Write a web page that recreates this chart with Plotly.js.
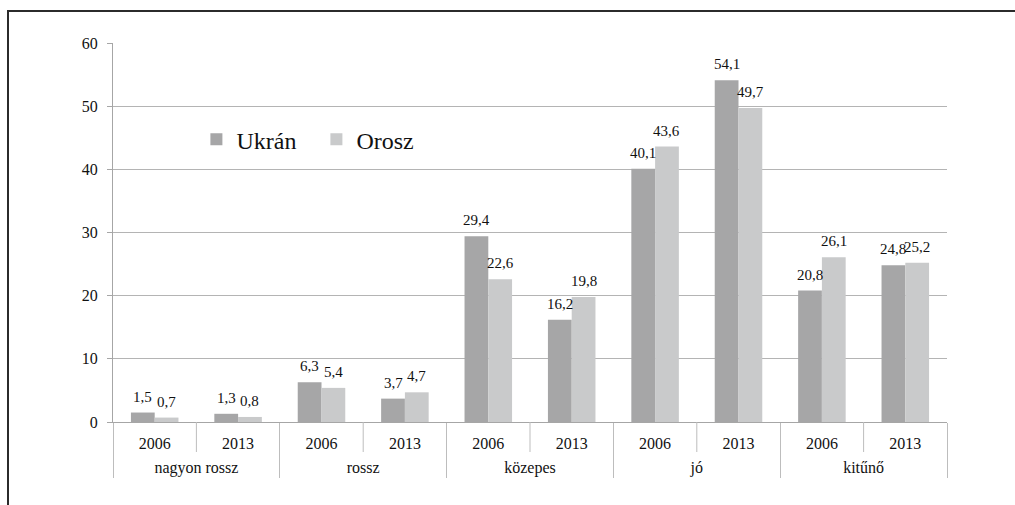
<!DOCTYPE html>
<html>
<head>
<meta charset="utf-8">
<script src="https://cdn.plot.ly/plotly-3.0.1.min.js"></script>
<style>
  html, body { margin: 0; padding: 0; background: #fff; }
  #wrap { position: relative; width: 1015px; height: 505px; }
  #chart { width: 1015px; height: 505px; }
  #frame { position: absolute; left: 7px; top: 10px; right: 0; bottom: 0;
           border-left: 2px solid #2b2b2b; border-top: 2px solid #2b2b2b;
           pointer-events: none; }
</style>
</head>
<body>
<div id="wrap">
  <div id="chart"></div>
  <div id="frame"></div>
</div>
<script>
// Data
const groups = ["nagyon rossz", "nagyon rossz", "rossz", "rossz", "közepes", "közepes", "jó", "jó", "kitűnő", "kitűnő"];
const years = ["2006", "2013", "2006", "2013", "2006", "2013", "2006", "2013", "2006", "2013"];
const seriesNames = ["Ukrán", "Orosz"];
const ukran = [1.5, 1.3, 6.3, 3.7, 29.4, 16.2, 40.1, 54.1, 20.8, 24.8];
const orosz = [0.7, 0.8, 5.4, 4.7, 22.6, 19.8, 43.6, 49.7, 26.1, 25.2];

const serif = "'Liberation Serif', 'Times New Roman', serif";
const colors = ["#a6a6a7", "#c9cacb"];
const bargap = 0.43;

// year labels get a tiny raised blank second line so the group row sits lower
const yearLabels = years.map(y => y + "<br><span style=\"font-size:4px;baseline-shift:7px\">\u00a0</span>");

function barTrace(name, vals, color) {
  return {
    type: "bar",
    name: name,
    x: [groups, yearLabels],
    y: vals,
    marker: { color: color, line: { width: 0 } },
    hoverinfo: "none"
  };
}

const data = [
  barTrace(seriesNames[0], ukran, colors[0]),
  barTrace(seriesNames[1], orosz, colors[1])
];

// value labels above each bar, placed at the bar centres (category index +/- half bar width)
const fmt = v => v.toFixed(1).replace(".", ",");
const halfBar = (1 - bargap) / 4;
const annotations = [];
[ukran, orosz].forEach((vals, s) => {
  const off = s === 0 ? -halfBar : halfBar;
  vals.forEach((v, i) => {
    annotations.push({
      xref: "x", yref: "y",
      x: i + off, y: v,
      text: fmt(v),
      showarrow: false,
      yanchor: "bottom",
      yshift: 6,
      font: { family: serif, size: 15, color: "#111" }
    });
  });
});

// short separators between the years inside each group
const shapes = [];
for (let i = 0; i < groups.length - 1; i++) {
  if (groups[i] === groups[i + 1]) {
    shapes.push({
      type: "line", xref: "x", yref: "paper",
      x0: i + 0.5, x1: i + 0.5, y0: 0, y1: -30 / 379,
      line: { color: "#bdbdbd", width: 1 }
    });
  }
}

const layout = {
  width: 1015,
  height: 505,
  margin: { l: 113, r: 68, t: 43, b: 83, pad: 0 },
  paper_bgcolor: "#ffffff",
  plot_bgcolor: "#ffffff",
  separators: ", ",
  barmode: "group",
  bargap: bargap,
  bargroupgap: 0,
  font: { family: serif, size: 16, color: "#111" },
  showlegend: true,
  legend: {
    orientation: "h",
    x: 0.1, xanchor: "left",
    y: 0.745, yanchor: "middle",
    bgcolor: "rgba(0,0,0,0)",
    font: { family: serif, size: 24, color: "#111" },
    entrywidth: 75, entrywidthmode: "pixels",
    traceorder: "normal"
  },
  annotations: annotations,
  shapes: shapes,
  xaxis: {
    type: "multicategory",
    showline: true,
    linecolor: "#a6a6a6",
    linewidth: 1,
    showgrid: false,
    zeroline: false,
    ticks: "",
    ticklabelstandoff: 7,
    showdividers: true,
    dividercolor: "#bdbdbd",
    dividerwidth: 1,
    tickfont: { family: serif, size: 16, color: "#111" }
  },
  yaxis: {
    range: [0, 60],
    dtick: 10,
    tick0: 0,
    showgrid: true,
    gridcolor: "#b4b4b4",
    gridwidth: 1,
    zeroline: false,
    showline: true,
    linecolor: "#a6a6a6",
    linewidth: 1,
    ticks: "outside",
    ticklen: 5,
    tickcolor: "#a6a6a6",
    ticklabelstandoff: 6,
    tickfont: { family: serif, size: 16, color: "#111" },
    fixedrange: true
  }
};

Plotly.newPlot("chart", data, layout, { displayModeBar: false, staticPlot: true });
</script>
</body>
</html>
